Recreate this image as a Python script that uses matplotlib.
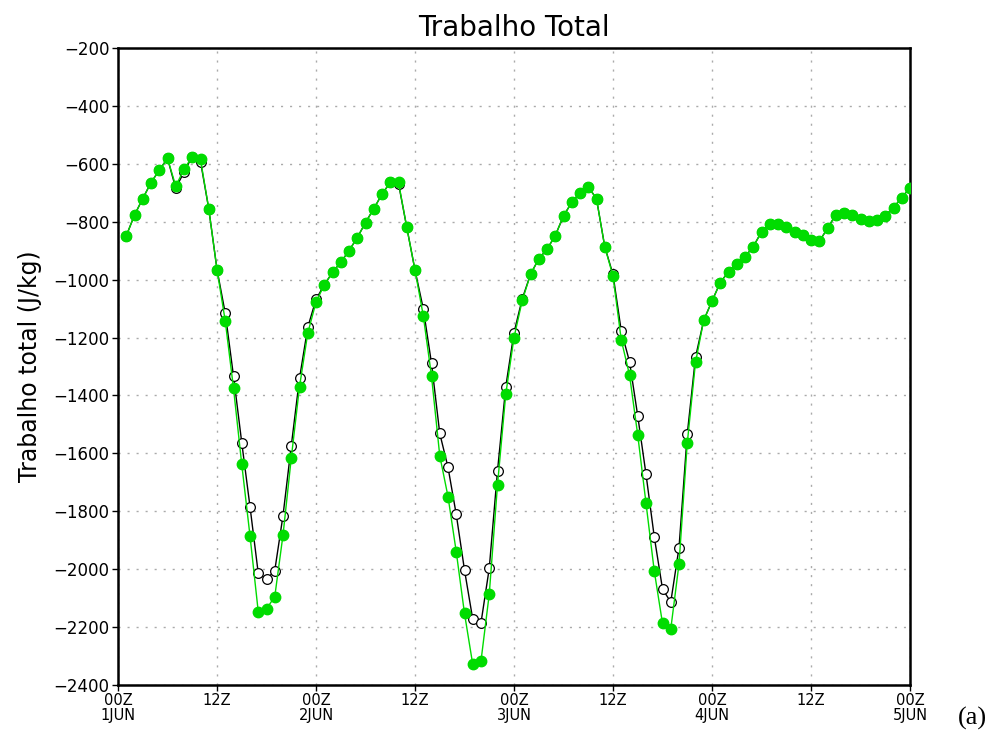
import numpy as np
import matplotlib
matplotlib.use("Agg")
import matplotlib.pyplot as plt

# hours since 00Z 1JUN
hours = np.arange(1, 97)

# green series (filled markers)
green = [-849, -777, -720, -665, -622, -581, -677, -619, -575, -585, -755, -965,
         -1143, -1375, -1638, -1885, -2147, -2137, -2095, -1882, -1617, -1370, -1185, -1078,
         -1018, -975, -940, -900, -855, -803, -755, -705, -664, -664, -819, -967,
         -1124, -1333, -1608, -1749, -1940, -2153, -2329, -2317, -2086, -1709, -1396, -1200,
         -1072, -982, -928, -895, -848, -780, -733, -700, -679, -721, -886, -988,
         -1208, -1329, -1537, -1772, -2006, -2187, -2207, -1982, -1565, -1286, -1140, -1074,
         -1010, -973, -946, -921, -886, -835, -808, -808, -817, -835, -847, -863,
         -868, -823, -776, -769, -776, -790, -796, -794, -779, -751, -717, -682]

# black series (open markers)
black = [-849, -777, -720, -665, -622, -581, -685, -628, -575, -592, -755, -965,
         -1116, -1333, -1563, -1784, -2014, -2035, -2005, -1815, -1575, -1341, -1165, -1068,
         -1018, -975, -940, -900, -855, -803, -755, -705, -664, -668, -819, -967,
         -1100, -1289, -1531, -1648, -1811, -2003, -2173, -2185, -1997, -1661, -1370, -1183,
         -1066, -982, -928, -895, -848, -780, -733, -700, -679, -721, -886, -982,
         -1177, -1283, -1471, -1672, -1888, -2068, -2114, -1926, -1534, -1268, -1140, -1074,
         -1010, -973, -946, -921, -886, -835, -808, -808, -817, -835, -847, -863,
         -868, -823, -776, -769, -776, -790, -796, -794, -779, -751, -717, -682]

xticks = [0, 12, 24, 36, 48, 60, 72, 84, 96]
xlabels = ["00Z\n1JUN", "12Z", "00Z\n2JUN", "12Z", "00Z\n3JUN", "12Z", "00Z\n4JUN", "12Z", "00Z\n5JUN"]
yticks = np.arange(-2400, -199, 200)

plt.rcParams['font.family'] = ['DejaVu Sans']

fig = plt.figure(figsize=(9.97, 7.36), dpi=100)
ax = fig.add_axes([118/997, 1 - 685/736, (910-118)/997, (685-48)/736])

ax.plot(hours, black, color="black", lw=1.0, marker="o", ms=7,
        mfc="white", mec="black", mew=0.9, zorder=3)
ax.plot(hours, green, color="#00dc00", lw=1.0, marker="o", ms=7.5,
        mfc="#00dc00", mec="#00dc00", zorder=4)

ax.set_xlim(0, 96)
ax.set_ylim(-2400, -200)
ax.set_xticks(xticks)
ax.set_xticklabels(xlabels, fontsize=10.5, linespacing=0.95)
ax.set_yticks(yticks)
ax.set_yticklabels([f"\u2212{abs(v)}" for v in yticks], fontsize=12)
ax.tick_params(direction="out", length=4, width=1, pad=2)

ax.grid(True, color="#aaaaaa", linestyle=(0, (1.5, 5)), lw=1.0)
for s in ax.spines.values():
    s.set_linewidth(1.8)

ax.set_title("Trabalho Total", fontsize=20, pad=9)
ax.set_ylabel("Trabalho total (J/kg)", fontsize=17, labelpad=8)

fig.text(972/997, 1 - 718/736, "(a)", family="Liberation Serif", fontsize=19,
         ha="center", va="center")

fig.savefig("out.png", dpi=100)
